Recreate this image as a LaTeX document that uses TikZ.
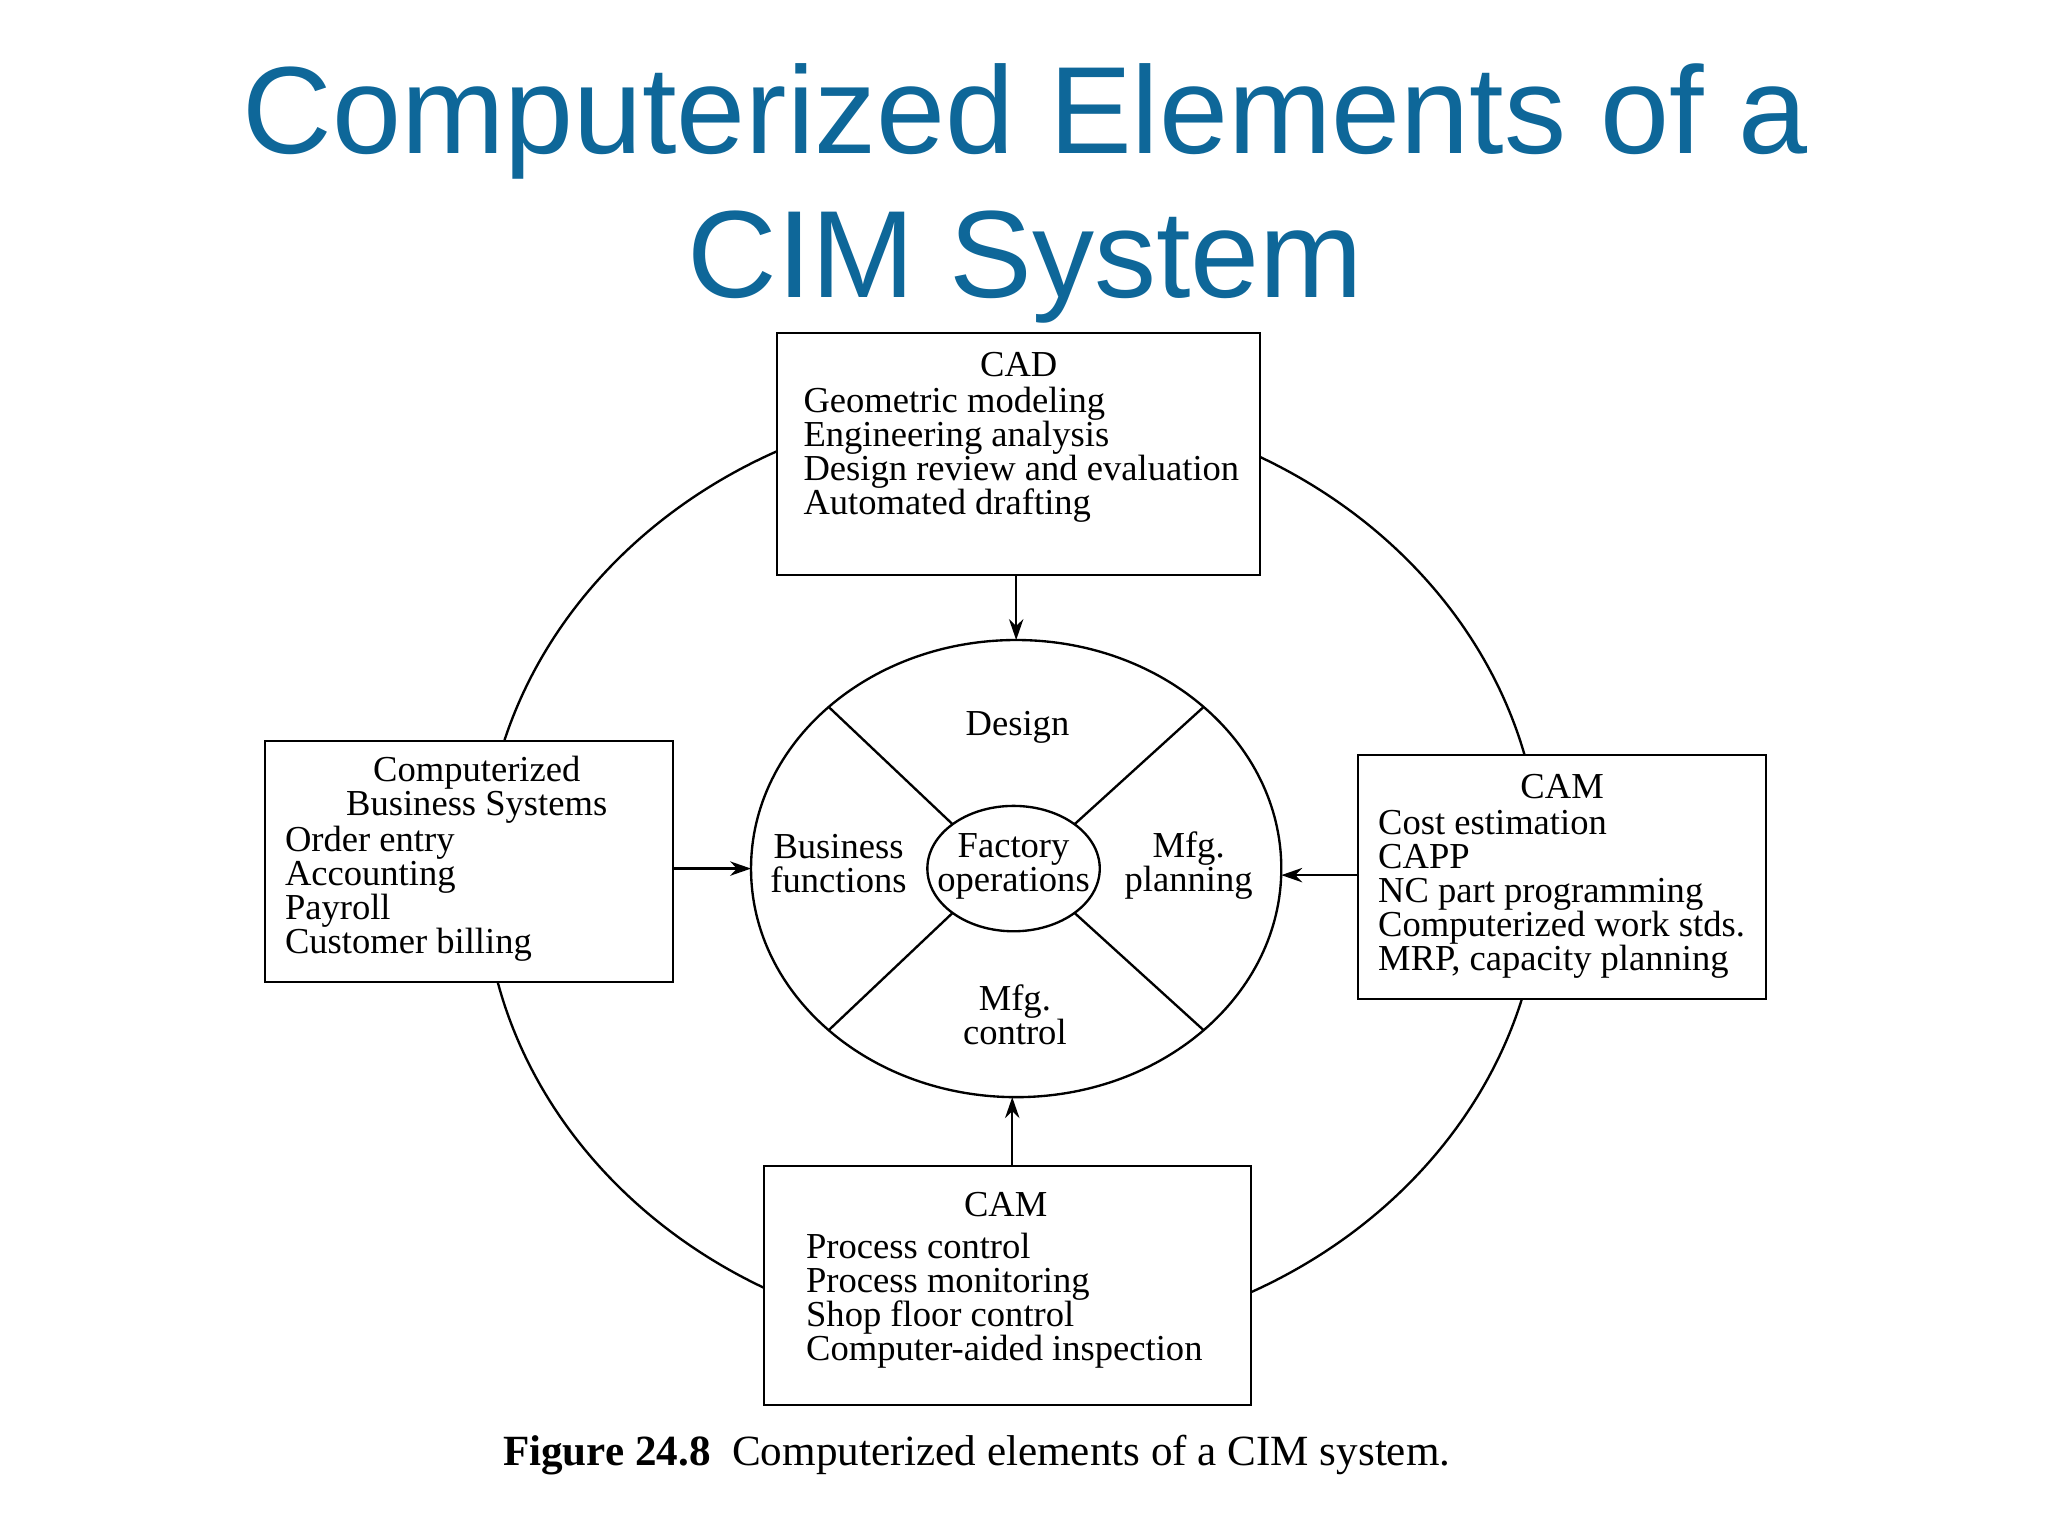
\documentclass[tikz,border=0pt]{standalone}
\usepackage{fontspec}
\setmainfont{Liberation Serif}
\newfontfamily\titlefont{Liberation Sans}
\usetikzlibrary{arrows.meta,calc}
\definecolor{titleblue}{RGB}{14,103,153}
\tikzset{
  box/.style={draw,line width=1.6pt},
  txt/.style={font=\fontsize{28}{26}\selectfont,align=left,inner sep=0pt,anchor=north west},
  hdr/.style={font=\fontsize{28}{26}\selectfont,align=center,inner sep=0pt},
  arr/.style={-{Stealth[length=16pt,width=11pt]},line width=1.8pt},
  ln/.style={line width=1.8pt}
}
\begin{document}
\begin{tikzpicture}[x=1pt,y=-1pt]
\useasboundingbox[fill=white] (0,0) rectangle (1568,1176);
\node[font=\titlefont\fontsize{95}{110}\selectfont,text=titleblue,align=center] (title) at (785,148) {Computerized Elements of a\\CIM System};
\draw[ln] (775,668) ellipse [x radius=405, y radius=360];
\path[box,fill=white,draw] (595,255) rectangle (965,440);
\coordinate (cadS) at (778,440);
\path[box,fill=white,draw] (203,567) rectangle (515,752);
\coordinate (busE) at (515,665);
\path[box,fill=white,draw] (1040,578) rectangle (1352,765);
\coordinate (camE) at (1040,670);
\path[box,fill=white,draw] (585,893) rectangle (958,1076);
\coordinate (cambN) at (775,893);
\draw[ln] (778,665) ellipse [x radius=203, y radius=175];
\draw[ln] (776,665) ellipse [x radius=66, y radius=48];
\foreach \a in {45,135,225,315}{
  \draw[ln] ($(776,665)+(\a:66 and -48)$) -- ($(778,665)+(\a:203 and -175)$);
}
\coordinate (inN) at (778,490);
\coordinate (inS) at (775,840);
\coordinate (inW) at (575,665);
\coordinate (inE) at (981,670);
\draw[arr] (cadS) -- (inN);
\draw[arr] (busE) -- (inW);
\draw[arr] (camE) -- (inE);
\draw[arr] (cambN) -- (inS);
\node[hdr] (cadh) at (780,279) {CAD};
\node[txt] (cadt) at (615,296) {Geometric modeling\\Engineering analysis\\Design review and evaluation\\Automated drafting};
\node[hdr] (bush) at (365,605) {Computerized\\Business Systems};
\node[txt] (bust) at (218,632) {Order entry\\Accounting\\Payroll\\Customer billing};
\node[hdr] (camh) at (1196,602) {CAM};
\node[txt] (camt) at (1055,620) {Cost estimation\\CAPP\\NC part programming\\Computerized work stds.\\MRP, capacity planning};
\node[hdr] (cambh) at (770,922) {CAM};
\node[txt] (cambt) at (617,944) {Process control\\Process monitoring\\Shop floor control\\Computer-aided inspection};
\node[hdr] (des) at (779,557) {Design};
\node[hdr] (bf) at (642,661) {Business\\functions};
\node[hdr] (fo) at (776,663) {Factory\\operations};
\node[hdr] (mp) at (910,663) {Mfg.\\planning};
\node[hdr] (mc) at (777,777) {Mfg.\\control};
\node[font=\fontsize{33}{35}\selectfont,anchor=base west,inner sep=0pt] (cap) at (385,1122) {\textbf{Figure 24.8}\ \ Computerized elements of a CIM system.};
\end{tikzpicture}
\end{document}
